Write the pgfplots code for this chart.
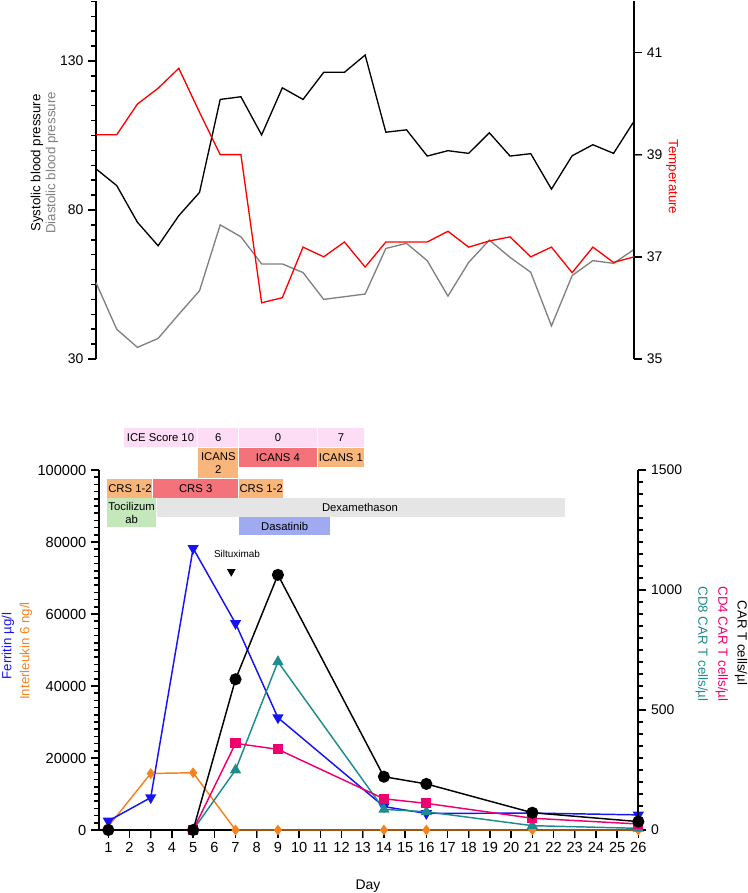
\documentclass[border=0pt]{standalone}
\usepackage{fontspec}
\setmainfont{Liberation Sans}
\usepackage{pgfplots}
\pgfplotsset{compat=1.18}

\definecolor{ferblue}{RGB}{20,20,245}
\definecolor{ilorange}{RGB}{245,130,30}
\definecolor{cdpink}{RGB}{240,0,110}
\definecolor{cdteal}{RGB}{30,140,140}
\definecolor{diagray}{RGB}{128,128,128}
\definecolor{icepink}{RGB}{252,221,245}
\definecolor{boxorange}{RGB}{249,182,122}
\definecolor{boxred}{RGB}{244,115,122}
\definecolor{boxgray}{RGB}{229,229,229}
\definecolor{boxgreen}{RGB}{197,231,188}
\definecolor{boxblue}{RGB}{160,170,240}

\pgfplotsset{
  vstyle/.style={
    scale only axis, anchor=south west,
    axis line style={line width=1.4bp},
    major tick length=6bp,
    tick align=outside,
    tick label style={font=\fontsize{10.5}{12}\selectfont},
    /pgf/number format/assume math mode=true,
    /pgf/number format/fixed,
    /pgf/number format/precision=2,
    /pgf/number format/1000 sep={},
    scaled y ticks=false,
    clip=false,
  },
}
\tikzset{tk/.style={black, line width=1.1bp}}
\newcommand{\boxfont}{\fontsize{8.5}{9.5}\selectfont}

\begin{document}
\begin{tikzpicture}
\useasboundingbox (0,0) rectangle (561bp,669.75bp);

% ---- top: blood pressure ----
\begin{axis}[vstyle, at={(72bp,400.5bp)}, width=403.7bp, height=268.2bp,
  xmin=0, xmax=26, ymin=30, ymax=150,
  axis x line=none, axis y line*=left,
  ytick={30,80,130}]
  \pgfplotsinvokeforeach{35,40,...,150}{\draw[tk] (axis cs:0,#1) -- ([xshift=-3.5bp]axis cs:0,#1);}
  \pgfplotsinvokeforeach{30,80,130}{\draw[tk] (axis cs:0,#1) -- ([xshift=-6bp]axis cs:0,#1);}
  \addplot[black, line width=1bp] coordinates {
    (0,93.8) (1,88.2) (2,75.9) (3,68.0) (4,78.1) (5,85.9) (6,117.1) (7,118.0)
    (8,105.2) (9,121.0) (10,117.1) (11,126.2) (12,126.2) (13,132.0) (14,106.1)
    (15,106.9) (16,98.1) (17,99.9) (18,99.0) (19,105.9) (20,98.1) (21,98.9)
    (22,87.0) (23,98.2) (24,101.9) (25,99.0) (26,109.9)};
  \addplot[diagray, line width=1bp] coordinates {
    (0,55.6) (1,40.0) (2,33.9) (3,36.9) (4,45.0) (5,52.9) (6,75.0) (7,71.0)
    (8,61.9) (9,61.9) (10,59.0) (11,50.0) (12,50.9) (13,51.8) (14,67.1)
    (15,68.8) (16,63.0) (17,51.1) (18,62.4) (19,69.9) (20,64.1) (21,59.1)
    (22,41.1) (23,58.0) (24,63.0) (25,62.1) (26,66.8)};
\end{axis}

% ---- top: temperature ----
\begin{axis}[vstyle, at={(72bp,400.5bp)}, width=403.7bp, height=268.2bp,
  xmin=0, xmax=26, ymin=35, ymax=42,
  axis x line=none, axis y line*=right,
  ytick={35,37,39,41}]
  \pgfplotsinvokeforeach{35,37,39,41}{\draw[tk] (axis cs:26,#1) -- ([xshift=6bp]axis cs:26,#1);}
  \addplot[red, line width=1bp] coordinates {
    (0,39.39) (1,39.39) (2,39.99) (3,40.30) (4,40.69) (5,39.83) (6,39.0) (7,39.0)
    (8,36.10) (9,36.20) (10,37.19) (11,37.0) (12,37.29) (13,36.80) (14,37.29)
    (15,37.29) (16,37.29) (17,37.5) (18,37.19) (19,37.31) (20,37.39) (21,37.0)
    (22,37.19) (23,36.69) (24,37.19) (25,36.89) (26,37.0)};
\end{axis}

% ---- bottom: ferritin and IL-6 ----
\begin{axis}[vstyle, at={(74.25bp,47.25bp)}, width=404.5bp, height=270bp,
  xmin=0.56, xmax=26, ymin=0, ymax=100000,
  axis x line*=bottom, axis y line*=left,
  xtick={1,...,26},
  xticklabel style={font=\fontsize{11}{12}\selectfont},
  ytick={0,20000,40000,60000,80000,100000},
  yticklabels={0,20000,40000,60000,80000,100000},
  yticklabel style={font=\fontsize{11}{12}\selectfont}]
  % ticks in thousands: #1000 gives 2000, 4000, ...
  \pgfplotsinvokeforeach{2,4,...,100}{\draw[tk] (axis cs:0.56,#1000) -- ([xshift=-3.5bp]axis cs:0.56,#1000);}
  \pgfplotsinvokeforeach{0,20,40,60,80,100}{\draw[tk] (axis cs:0.56,#1000) -- ([xshift=-6bp]axis cs:0.56,#1000);}
  \pgfplotsinvokeforeach{1,...,26}{\draw[tk] (axis cs:#1,0) -- ([yshift=-6bp]axis cs:#1,0);}
  % treatment / grading bars
  \fill[icepink] (axis cs:1.75,106310) rectangle (axis cs:5.17,111580);
  \fill[icepink] (axis cs:5.25,106310) rectangle (axis cs:7.13,111580);
  \fill[icepink] (axis cs:7.18,106310) rectangle (axis cs:10.83,111580);
  \fill[icepink] (axis cs:10.88,106310) rectangle (axis cs:13.06,111580);
  \fill[boxorange] (axis cs:5.25,97690) rectangle (axis cs:7.13,106030);
  \fill[boxred] (axis cs:7.18,100920) rectangle (axis cs:10.83,106030);
  \fill[boxorange] (axis cs:10.88,100920) rectangle (axis cs:13.06,106030);
  \fill[boxorange] (axis cs:0.95,92310) rectangle (axis cs:3.08,97420);
  \fill[boxred] (axis cs:3.12,92310) rectangle (axis cs:7.13,97420);
  \fill[boxorange] (axis cs:7.18,92310) rectangle (axis cs:9.25,97420);
  \fill[boxgreen] (axis cs:0.95,84080) rectangle (axis cs:3.24,92140);
  \fill[boxgray] (axis cs:3.28,87030) rectangle (axis cs:22.54,92140);
  \fill[boxblue] (axis cs:7.18,81950) rectangle (axis cs:11.46,86900);
  \node[font=\boxfont] at (axis cs:3.46,108950) {ICE Score 10};
  \node[font=\boxfont] at (axis cs:6.19,108950) {6};
  \node[font=\boxfont] at (axis cs:9.0,108950) {0};
  \node[font=\boxfont] at (axis cs:11.97,108950) {7};
  \node[font=\boxfont, align=center] at (axis cs:6.19,101860) {ICANS\\2};
  \node[font=\boxfont] at (axis cs:9.0,103480) {ICANS 4};
  \node[font=\boxfont] at (axis cs:11.97,103480) {ICANS 1};
  \node[font=\boxfont] at (axis cs:2.02,94870) {CRS 1-2};
  \node[font=\boxfont] at (axis cs:5.12,94870) {CRS 3};
  \node[font=\boxfont] at (axis cs:8.21,94870) {CRS 1-2};
  \node[font=\boxfont, align=center] at (axis cs:2.1,88110) {Tocilizum\\ab};
  \node[font=\boxfont] at (axis cs:12.87,89590) {Dexamethason};
  \node[font=\boxfont] at (axis cs:9.32,84430) {Dasatinib};
  \node[font=\fontsize{7.5}{9}\selectfont] at (axis cs:7.07,76670) {Siltuximab};
  \addplot[only marks, mark=triangle*, mark size=3.3,
    mark options={rotate=180, fill=black, draw=black}] coordinates {(6.8,71750)};
  % data
  \addplot[ilorange, line width=1.1bp, mark=diamond*, mark size=3.2,
    mark options={fill=ilorange}] coordinates {
    (1,1000) (3,15700) (5,15900) (7,0) (9,0) (14,0) (16,0) (21,0) (26,0)};
  \addplot[ferblue, line width=1.1bp, mark=triangle*, mark size=3.8,
    mark options={rotate=180, fill=ferblue}] coordinates {
    (1,2500) (3,9000) (5,78250) (7,57400) (9,31200) (14,6500) (16,4600)
    (21,4700) (26,4200)};
\end{axis}

% ---- bottom: CAR T cells ----
\begin{axis}[vstyle, at={(74.25bp,47.25bp)}, width=404.5bp, height=270bp,
  xmin=0.56, xmax=26, ymin=0, ymax=1500,
  axis x line=none, axis y line*=right,
  ytick={0,500,1000,1500}]
  \pgfplotsinvokeforeach{50,100,...,1500}{\draw[tk] (axis cs:26,#1) -- ([xshift=3.5bp]axis cs:26,#1);}
  \pgfplotsinvokeforeach{0,500,1000,1500}{\draw[tk] (axis cs:26,#1) -- ([xshift=6bp]axis cs:26,#1);}
  \addplot[cdteal, line width=1.1bp, mark=triangle*, mark size=3.8,
    mark options={fill=cdteal}] coordinates {
    (5,0) (7,250) (9,701) (14,86) (16,76) (21,18) (26,7)};
  \addplot[cdpink, line width=1.1bp, mark=square*, mark size=3.3,
    mark options={fill=cdpink}] coordinates {
    (5,0) (7,361) (9,336) (14,130) (16,111) (21,49) (26,25)};
  \addplot[black, line width=1.1bp, mark=*, mark size=4,
    mark options={fill=black}] coordinates {
    (1,0) (5,0) (7,628) (9,1063) (14,222) (16,192) (21,72) (26,35)};
\end{axis}

% ---- axis titles ----
\node[rotate=90, font=\fontsize{10}{12}\selectfont] at (27.75bp,547.5bp) {Systolic blood pressure};
\node[rotate=90, font=\fontsize{10}{12}\selectfont, text=diagray] at (39bp,547.5bp) {Diastolic blood pressure};
\node[rotate=-90, font=\fontsize{10}{12}\selectfont, text=red] at (504bp,537bp) {Temperature};
\node[rotate=90, font=\fontsize{10}{12}\selectfont, text=ferblue] at (6bp,185.25bp) {Ferritin µg/l};
\node[rotate=90, font=\fontsize{10}{12}\selectfont, text=ilorange] at (19.5bp,181.5bp) {Interleukin 6 ng/l};
\node[rotate=-90, font=\fontsize{10}{12}\selectfont] at (555.75bp,187.5bp) {CAR T cells/µl};
\node[rotate=-90, font=\fontsize{10}{12}\selectfont, text=cdpink] at (541.3bp,186.75bp) {CD4 CAR T cells/µl};
\node[rotate=-90, font=\fontsize{10}{12}\selectfont, text=cdteal] at (526.3bp,186.75bp) {CD8 CAR T cells/µl};
\node[font=\fontsize{10.5}{12}\selectfont] at (276bp,5.25bp) {Day};
\end{tikzpicture}
\end{document}
